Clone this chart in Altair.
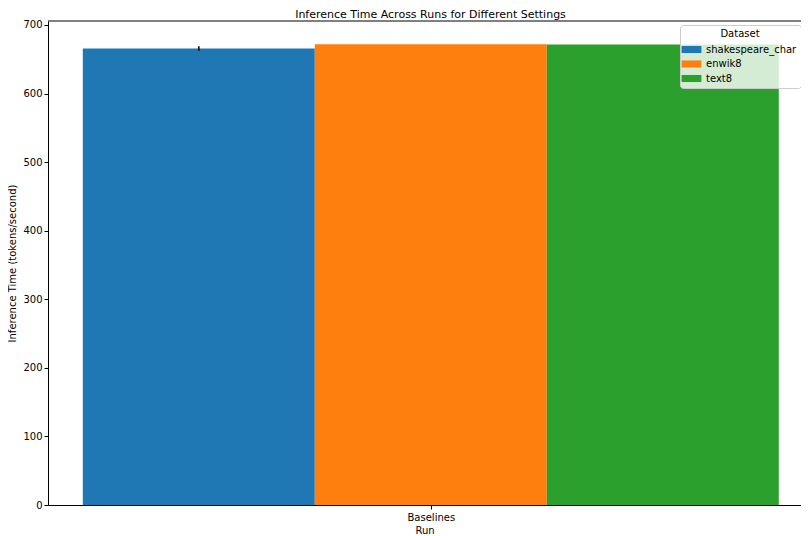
import altair as alt
import pandas as pd

datasets = ["shakespeare_char", "enwik8", "text8"]
runs = ["Baselines"]
means = [665.7, 671.9, 671.4]
errors = [3.2, 0.0, 0.0]
colors = ["#1f77b4", "#ff7f0e", "#2ca02c"]

bar_w = 0.25
rows = []
for i, (d, m, e) in enumerate(zip(datasets, means, errors)):
    pos = (i - 1) * bar_w
    rows.append({"Dataset": d, "Run": runs[0], "x0": pos - bar_w / 2, "x1": pos + bar_w / 2,
                 "xc": pos, "value": m, "lo": m - e, "hi": m + e, "err": e})
df = pd.DataFrame(rows)

FONT = "DejaVu Sans"
W, H = 753, 484
YMAX = 705.8
xscale = alt.Scale(domain=[-0.4125, -0.4125 + W / 928], nice=False, zero=False)
yscale = alt.Scale(domain=[0, YMAX], nice=False)

bars = alt.Chart(df).mark_bar(strokeWidth=0).encode(
    x=alt.X("x0:Q", scale=xscale,
            axis=alt.Axis(values=[0], labelExpr="'Baselines'", title="Run", grid=False,
                          tickColor="black", domainColor="black", labelColor="black",
                          titleColor="black", labelFontSize=10, titleFontSize=10,
                          titleFontWeight="normal", labelFont=FONT, titleFont=FONT,
                          tickSize=4, labelPadding=3, titlePadding=3)),
    x2="x1:Q",
    y=alt.Y("value:Q", scale=yscale,
            axis=alt.Axis(values=[0, 100, 200, 300, 400, 500, 600, 700], grid=False,
                          title="Inference Time (tokens/second)", tickColor="black",
                          domainColor="black", labelColor="black", titleColor="black",
                          labelFontSize=10, titleFontSize=10, titleFontWeight="normal",
                          labelFont=FONT, titleFont=FONT, tickSize=4, labelPadding=2,
                          titlePadding=5)),
    y2=alt.datum(0),
    color=alt.Color("Dataset:N", scale=alt.Scale(domain=datasets, range=colors),
                    legend=alt.Legend(
                        title="Dataset", orient="none", legendX=632, legendY=4,
                        fillColor="rgba(255,255,255,0.8)", strokeColor="#cccccc",
                        padding=4, cornerRadius=3,
                        titleFont=FONT, titleFontSize=10, titleFontWeight="normal",
                        titleAnchor="middle", titleAlign="center", titleColor="black",
                        titlePadding=3,
                        labelFont=FONT, labelFontSize=10, labelColor="black",
                        symbolType="M-1.4,-0.5L1.4,-0.5L1.4,0.5L-1.4,0.5Z",
                        symbolSize=200, symbolStrokeWidth=0, symbolOpacity=1,
                        rowPadding=1.5, labelOffset=7)),
)

errbars = alt.Chart(df[df["err"] > 0]).mark_rule(color="black", strokeWidth=1.5).encode(
    x=alt.X("xc:Q", scale=xscale),
    y=alt.Y("lo:Q", scale=yscale),
    y2="hi:Q",
)

top_spine = alt.Chart(pd.DataFrame({"top": [YMAX]})).mark_rule(color="black", strokeWidth=1).encode(
    y=alt.Y("top:Q", scale=yscale),
)

chart = alt.layer(bars, errbars, top_spine).properties(
    width=W, height=H,
    title=alt.TitleParams("Inference Time Across Runs for Different Settings",
                          font=FONT, fontSize=11, fontWeight="normal", color="black",
                          anchor="middle", offset=0, dx=6),
    autosize=alt.AutoSizeParams(type="none"),
    padding={"left": 40, "top": 13, "right": 0, "bottom": 31},
).configure_view(stroke=None)

chart.save("out.html", embed_options={"renderer": "svg", "actions": False})
